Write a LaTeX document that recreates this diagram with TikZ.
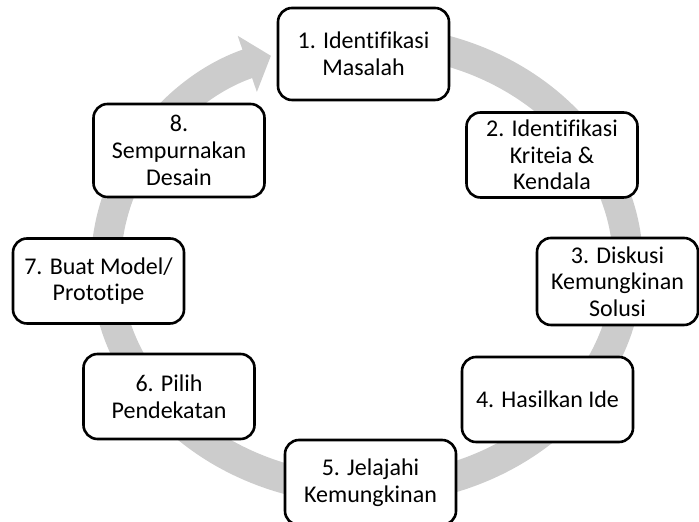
\documentclass[tikz,border=0pt]{standalone}
\usepackage{fontspec}
\setmainfont{Carlito}[Ligatures=CommonOff]
\usetikzlibrary{arrows.meta}
\definecolor{ringgray}{RGB}{204,204,204}
\tikzset{
    stage/.style={draw=black, line width=1.3pt, rounded corners=7pt, fill=white,
        align=center, minimum width=85.5pt, minimum height=42.5pt,
        inner xsep=2pt, inner ysep=1pt, font=\fontsize{12}{13.3}\selectfont},
    ringarrow/.style={ringgray, line width=15pt, -{Triangle[length=12.5pt, width=29pt]}}
}

\begin{document}
\begin{tikzpicture}[x=0.5pt, y=0.5pt]
    \useasboundingbox (0,0) rectangle (699,522);

    % Grey cycle arrow behind the stages
    \coordinate (ringc) at (367,257);
    \draw[ringarrow] ([shift={(85:130.5pt and 112.5pt)}]ringc)
        arc[start angle=85, end angle=-248.4, x radius=130.5pt, y radius=112.5pt];

    % Stages, clockwise from the top
    \node[stage, minimum height=46pt] (identify) at (363.5,468) {1. Identifikasi\\Masalah};
    \node[stage] (criteria) at (552,367) {2. Identifikasi\\Kriteia \&\\Kendala};
    \node[stage, minimum width=80.5pt, minimum height=43.5pt] (discuss) at (617.5,240.5) {3. Diskusi\\Kemungkinan\\Solusi};
    \node[stage] (ideas) at (547.5,122.5) {4. Hasilkan Ide};
    \node[stage] (explore) at (370.5,39.5) {5. Jelajahi\\Kemungkinan};
    \node[stage] (approach) at (169,125.5) {6. Pilih\\Pendekatan};
    \node[stage] (model) at (98.5,241) {7. Buat Model/\\Prototipe};
    \node[stage, minimum height=46.5pt] (refine) at (179,371.5) {8.\\Sempurnakan\\Desain};

\end{tikzpicture}
\end{document}
